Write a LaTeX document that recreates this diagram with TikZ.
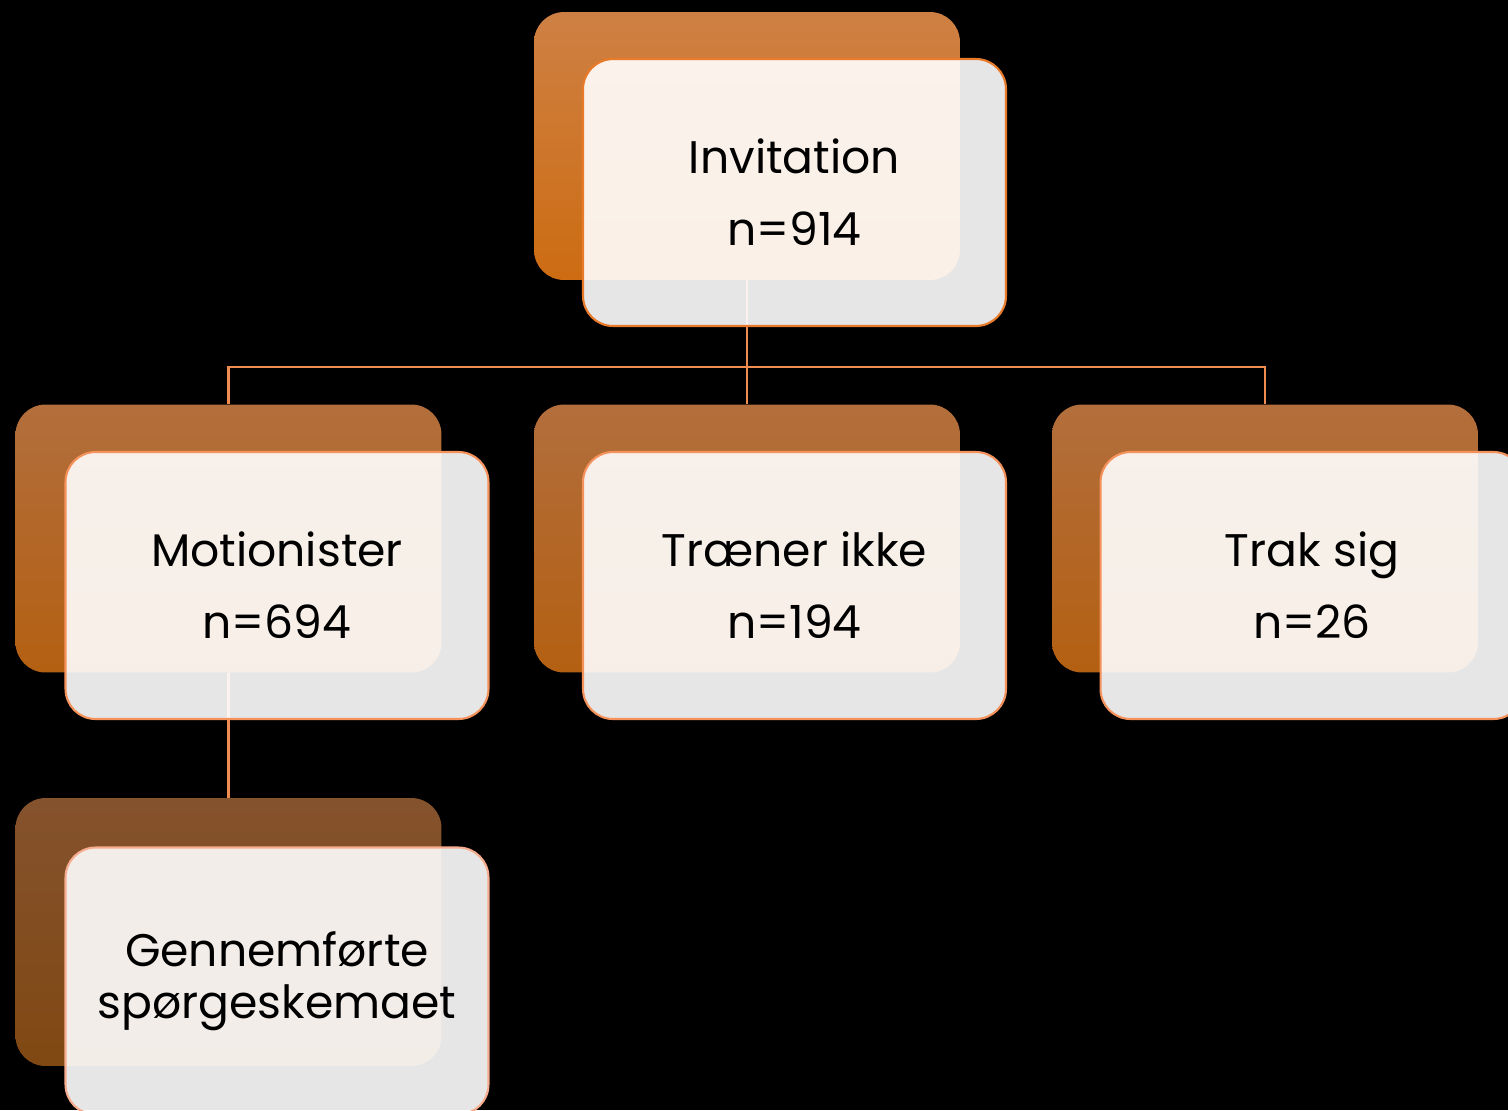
\documentclass[tikz,border=0pt]{standalone}
\usepackage{fontspec}
\setmainfont{Poppins}
\usetikzlibrary{positioning}
\definecolor{orangetop}{RGB}{206,128,68}
\definecolor{orangebot}{RGB}{205,108,18}
\definecolor{rusttop}{RGB}{178,110,60}
\definecolor{rustbot}{RGB}{180,96,18}
\definecolor{browntop}{RGB}{132,82,45}
\definecolor{brownbot}{RGB}{128,72,18}
\definecolor{edgeone}{RGB}{232,122,42}
\definecolor{edgetwo}{RGB}{245,146,92}
\definecolor{edgethree}{RGB}{246,172,142}
\definecolor{linkcol}{RGB}{238,140,82}

\begin{document}
\begin{tikzpicture}[x=0.02cm, y=-0.02cm,
    backbox/.style={rounded corners=0.6cm, minimum width=8.52cm, minimum height=5.36cm, inner sep=0pt},
    frontbox/.style={rounded corners=0.6cm, minimum width=8.46cm, minimum height=5.34cm,
        draw, line width=1.2pt, fill=white, fill opacity=0.9, text opacity=1,
        align=center, text=black, font=\fontsize{26}{41}\selectfont},
    link/.style={draw=linkcol, line width=1.2pt}]
    % zwarte achtergrond
    \path[use as bounding box, fill=black] (0,0) rectangle (1508,1110);
    \clip (0,0) rectangle (1508,1110);

    % achterste kaarten
    \node[backbox, top color=orangetop, bottom color=orangebot] (inv-b) at (747,146) {};
    \node[backbox, top color=rusttop, bottom color=rustbot] (mot-b) at (228.5,538.5) {};
    \node[backbox, top color=rusttop, bottom color=rustbot] (trae-b) at (747,538.5) {};
    \node[backbox, top color=rusttop, bottom color=rustbot] (trak-b) at (1265,538.5) {};
    \node[backbox, top color=browntop, bottom color=brownbot] (gen-b) at (228.5,932) {};

    % verbindingen
    \draw[link] (inv-b.south) -- ++(0,87) -| (mot-b.north);
    \draw[link] (inv-b.south) -- ++(0,87) -| (trak-b.north);
    \draw[link] (inv-b.south) -- (trae-b.north);
    \draw[link] (mot-b.south) -- (gen-b.north);

    % voorste kaarten
    \node[frontbox, draw=edgeone] (inv) at (794.5,192.5) {Invitation\\n=914};
    \node[frontbox, draw=edgetwo] (mot) at (277,585.5) {Motionister\\n=694};
    \node[frontbox, draw=edgetwo] (trae) at (794.5,585.5) {Træner ikke\\n=194};
    \node[frontbox, draw=edgetwo] (trak) at (1312,585.5) {Trak sig\\n=26};
    \node[frontbox, draw=edgethree, font=\fontsize{26}{29.5}\selectfont] (gen) at (277,981) {Gennemførte\\spørgeskemaet};
\end{tikzpicture}
\end{document}
